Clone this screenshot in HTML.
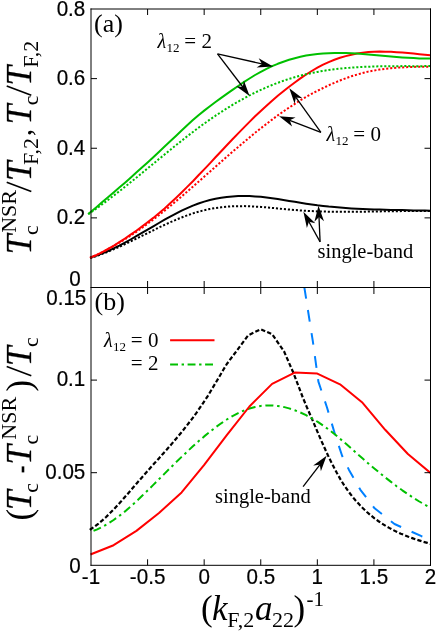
<!DOCTYPE html>
<html><head><meta charset="utf-8"><title>Figure</title>
<style>html,body{margin:0;padding:0;background:#fff;}body{width:436px;height:632px;position:relative;overflow:hidden;font-family:"Liberation Sans",sans-serif;}</style>
</head><body>
<svg width="436" height="632" viewBox="0 0 436 632" style="position:absolute;left:0;top:0;will-change:transform">
<rect width="436" height="632" fill="#fff"/>
<defs><clipPath id="ca"><rect x="87.0" y="9.0" width="343.5" height="278.5"/></clipPath><clipPath id="cb"><rect x="87.0" y="287.5" width="343.5" height="277.79999999999995"/></clipPath></defs>
<polyline clip-path="url(#ca)" points="90.2,258.1 91.0,257.8 96.7,256.0 102.3,253.9 108.0,251.7 113.6,249.3 119.3,246.8 125.0,244.2 130.6,241.4 136.3,238.7 141.9,235.9 147.6,233.1 153.3,230.3 158.9,227.5 164.6,224.8 170.2,222.3 175.9,219.8 181.6,217.5 187.2,215.4 192.9,213.4 198.5,211.7 204.2,210.2 209.9,209.0 215.5,208.0 221.2,207.3 226.8,206.7 232.5,206.3 238.2,206.2 243.8,206.1 249.5,206.3 255.1,206.6 260.8,206.9 266.5,207.4 272.1,207.9 277.8,208.5 283.4,209.0 289.1,209.5 294.8,210.0 300.4,210.5 306.1,210.8 311.7,211.1 317.4,211.4 323.1,211.5 328.7,211.7 334.4,211.8 340.0,211.8 345.7,211.8 351.4,211.8 357.0,211.8 362.7,211.7 368.3,211.6 374.0,211.5 379.7,211.4 385.3,211.3 391.0,211.2 396.6,211.2 402.3,211.1 408.0,211.0 413.6,211.0 419.3,211.0 424.9,211.0 430.5,211.1" fill="none" stroke="#000" stroke-width="2" stroke-linejoin="round" stroke-dasharray="2.1 1.9"/>
<polyline clip-path="url(#ca)" points="90.2,257.7 91.0,257.4 96.7,255.6 102.3,253.4 108.0,251.0 113.6,248.4 119.3,245.6 125.0,242.6 130.6,239.5 136.3,236.2 141.9,232.9 147.6,229.6 153.3,226.3 158.9,223.0 164.6,219.7 170.2,216.6 175.9,213.6 181.6,210.7 187.2,208.1 192.9,205.6 198.5,203.5 204.2,201.6 209.9,200.0 215.5,198.7 221.2,197.7 226.8,196.9 232.5,196.4 238.2,196.1 243.8,196.0 249.5,196.1 255.1,196.4 260.8,196.8 266.5,197.5 272.1,198.2 277.8,199.0 283.4,199.9 289.1,200.9 294.8,201.8 300.4,202.8 306.1,203.7 311.7,204.5 317.4,205.3 323.1,205.9 328.7,206.6 334.4,207.1 340.0,207.6 345.7,208.0 351.4,208.4 357.0,208.7 362.7,209.0 368.3,209.2 374.0,209.4 379.7,209.6 385.3,209.7 391.0,209.9 396.6,210.0 402.3,210.1 408.0,210.3 413.6,210.4 419.3,210.5 424.9,210.6 430.5,210.8" fill="none" stroke="#000" stroke-width="2" stroke-linejoin="round"/>
<polyline clip-path="url(#ca)" points="90.0,258.1 91.0,257.6 96.7,255.0 102.3,252.2 108.0,249.2 113.6,246.0 119.3,242.7 125.0,239.3 130.6,235.6 136.3,231.9 141.9,227.9 147.6,223.8 153.3,219.6 158.9,215.2 164.6,210.7 170.2,206.1 175.9,201.3 181.6,196.5 187.2,191.6 192.9,186.7 198.5,181.7 204.2,176.7 209.9,171.7 215.5,166.7 221.2,161.7 226.8,156.8 232.5,151.8 238.2,147.0 243.8,142.2 249.5,137.5 255.1,132.8 260.8,128.3 266.5,123.9 272.1,119.6 277.8,115.4 283.4,111.4 289.1,107.6 294.8,103.9 300.4,100.3 306.1,97.0 311.7,93.8 317.4,90.8 323.1,88.0 328.7,85.3 334.4,82.8 340.0,80.5 345.7,78.3 351.4,76.3 357.0,74.6 362.7,73.0 368.3,71.6 374.0,70.5 379.7,69.6 385.3,68.8 391.0,68.2 396.6,67.7 402.3,67.4 408.0,67.1 413.6,66.9 419.3,66.8 424.9,66.7 430.5,66.6" fill="none" stroke="#ff0000" stroke-width="2" stroke-linejoin="round" stroke-dasharray="2.1 1.9"/>
<polyline clip-path="url(#ca)" points="90.0,257.6 91.0,257.2 96.7,254.8 102.3,252.1 108.0,249.0 113.6,245.8 119.3,242.2 125.0,238.5 130.6,234.7 136.3,230.7 141.9,226.6 147.6,222.3 153.3,217.9 158.9,213.3 164.6,208.4 170.2,203.3 175.9,198.0 181.6,192.5 187.2,186.9 192.9,181.2 198.5,175.3 204.2,169.4 209.9,163.4 215.5,157.3 221.2,151.3 226.8,145.3 232.5,139.3 238.2,133.4 243.8,127.6 249.5,121.9 255.1,116.3 260.8,110.9 266.5,105.7 272.1,100.7 277.8,95.8 283.4,91.2 289.1,86.7 294.8,82.5 300.4,78.4 306.1,74.5 311.7,71.0 317.4,67.7 323.1,64.7 328.7,62.1 334.4,59.8 340.0,57.8 345.7,56.1 351.4,54.7 357.0,53.6 362.7,52.7 368.3,52.1 374.0,51.8 379.7,51.6 385.3,51.7 391.0,51.8 396.6,52.2 402.3,52.6 408.0,53.1 413.6,53.6 419.3,54.2 424.9,54.8 430.5,55.3" fill="none" stroke="#ff0000" stroke-width="2" stroke-linejoin="round"/>
<polyline clip-path="url(#ca)" points="88.2,214.3 91.0,212.3 96.7,208.4 102.3,204.3 108.0,200.0 113.6,195.7 119.3,191.3 125.0,186.8 130.6,182.3 136.3,177.7 141.9,173.1 147.6,168.4 153.3,163.8 158.9,159.1 164.6,154.5 170.2,149.9 175.9,145.3 181.6,140.8 187.2,136.3 192.9,132.0 198.5,127.7 204.2,123.6 209.9,119.6 215.5,115.7 221.2,112.0 226.8,108.4 232.5,104.9 238.2,101.6 243.8,98.5 249.5,95.4 255.1,92.6 260.8,89.9 266.5,87.4 272.1,85.0 277.8,82.8 283.4,80.8 289.1,78.9 294.8,77.2 300.4,75.6 306.1,74.3 311.7,73.0 317.4,71.9 323.1,70.9 328.7,70.0 334.4,69.3 340.0,68.6 345.7,68.1 351.4,67.6 357.0,67.2 362.7,66.9 368.3,66.7 374.0,66.5 379.7,66.3 385.3,66.3 391.0,66.2 396.6,66.2 402.3,66.1 408.0,66.1 413.6,66.2 419.3,66.2 424.9,66.1 430.5,66.1" fill="none" stroke="#00c000" stroke-width="2" stroke-linejoin="round" stroke-dasharray="2.1 1.9"/>
<polyline clip-path="url(#ca)" points="88.2,214.1 91.0,211.7 96.7,206.9 102.3,202.1 108.0,197.3 113.6,192.4 119.3,187.6 125.0,182.7 130.6,177.7 136.3,172.6 141.9,167.5 147.6,162.4 153.3,157.2 158.9,151.9 164.6,146.6 170.2,141.3 175.9,135.9 181.6,130.5 187.2,125.3 192.9,120.1 198.5,115.2 204.2,110.6 209.9,106.2 215.5,102.0 221.2,97.9 226.8,93.9 232.5,89.9 238.2,86.0 243.8,82.1 249.5,78.5 255.1,75.0 260.8,71.8 266.5,68.9 272.1,66.2 277.8,63.8 283.4,61.7 289.1,59.8 294.8,58.2 300.4,56.8 306.1,55.6 311.7,54.7 317.4,54.0 323.1,53.5 328.7,53.2 334.4,53.0 340.0,53.0 345.7,53.1 351.4,53.3 357.0,53.6 362.7,53.9 368.3,54.4 374.0,54.9 379.7,55.4 385.3,55.9 391.0,56.4 396.6,56.9 402.3,57.4 408.0,57.8 413.6,58.1 419.3,58.4 424.9,58.6 430.5,58.6" fill="none" stroke="#00c000" stroke-width="2" stroke-linejoin="round"/>
<polyline clip-path="url(#cb)" points="304.3,287.0 307.9,310.0 312.9,341.7 318.4,381.6 327.0,407.5 335.2,435.0 342.1,455.7 349.0,469.9 360.4,489.8 374.6,508.3 394.5,524.0 421.5,536.2 430.5,539.5" fill="none" stroke="#0080ff" stroke-width="2" stroke-linejoin="round" stroke-dasharray="11.8 11.5"/>
<polyline clip-path="url(#cb)" points="89.8,529.8 91.0,529.0 94.8,526.5 98.5,523.6 102.3,520.4 106.1,517.0 109.8,513.3 113.6,509.5 117.4,505.4 121.2,501.3 124.9,497.0 128.7,492.7 132.5,488.3 136.2,483.9 140.0,479.6 143.8,475.3 147.5,471.1 151.3,466.8 155.1,462.6 158.9,458.4 162.6,454.2 166.4,450.0 170.2,445.7 173.9,441.3 177.7,436.8 181.5,432.3 185.2,427.6 189.0,422.8 192.8,417.8 196.6,412.6 200.3,407.2 204.1,401.6 207.9,395.8 211.6,389.6 215.4,383.3 219.2,376.9 222.9,370.5 226.7,364.2 248.2,335.3 260.6,329.3 272.1,334.2 284.0,351.3 293.6,373.3 302.8,397.5 306.6,406.6 310.4,415.3 314.2,424.1 317.9,432.9 321.7,441.6 325.5,450.0 329.2,458.0 333.0,465.6 336.8,472.8 340.5,479.4 344.3,485.5 348.1,491.0 351.9,496.0 355.6,500.5 359.4,504.6 363.2,508.5 366.9,512.0 370.7,515.3 374.5,518.3 378.2,521.0 382.0,523.6 385.8,526.0 389.6,528.1 393.3,530.1 397.1,532.0 400.9,533.7 404.6,535.2 408.4,536.7 412.2,538.1 415.9,539.4 419.7,540.6 423.5,541.8 427.3,542.9 430.5,543.9" fill="none" stroke="#000" stroke-width="2.2" stroke-linejoin="round" stroke-dasharray="4.3 2.2"/>
<polyline clip-path="url(#cb)" points="90.5,531.9 91.0,531.7 96.7,529.6 102.3,527.0 108.0,523.7 113.6,520.0 119.3,515.9 125.0,511.4 130.6,506.5 136.3,501.4 141.9,496.0 147.6,490.5 153.3,484.9 158.9,479.3 164.6,473.6 170.2,468.0 175.9,462.4 181.6,456.9 187.2,451.6 192.9,446.3 198.5,441.3 204.2,436.4 209.9,431.8 215.5,427.4 221.2,423.3 226.8,419.5 232.5,416.1 238.2,413.1 243.8,410.6 249.5,408.5 255.1,407.0 260.8,405.9 266.5,405.4 272.1,405.5 277.8,406.0 283.4,406.9 289.1,408.4 294.8,410.3 300.4,412.5 306.1,415.2 311.7,418.3 317.4,421.7 323.1,425.5 328.7,429.6 334.4,434.0 340.0,438.7 345.7,443.6 351.4,448.6 357.0,453.6 362.7,458.5 368.3,463.4 374.0,468.2 379.7,472.9 385.3,477.5 391.0,481.9 396.6,486.2 402.3,490.3 408.0,494.2 413.6,498.0 419.3,501.5 424.9,504.7 430.5,507.7" fill="none" stroke="#00c000" stroke-width="2" stroke-linejoin="round" stroke-dasharray="8 3.75 2.5 3.75" stroke-dashoffset="14.8"/>
<polyline clip-path="url(#cb)" points="90.5,554.5 91.0,554.3 113.6,545.2 136.4,530.9 159.0,513.0 181.6,492.4 204.0,465.2 226.8,435.2 249.4,406.5 272.1,383.9 294.7,372.6 317.3,373.6 340.0,384.3 362.6,402.8 385.2,429.8 407.9,454.0 430.5,473.0" fill="none" stroke="#ff0000" stroke-width="2" stroke-linejoin="round"/>
<line x1="170.1" y1="340.3" x2="214.5" y2="340.3" stroke="#ff0000" stroke-width="2"/>
<line x1="170.1" y1="364.5" x2="213.1" y2="364.5" stroke="#00c000" stroke-width="2" stroke-dasharray="7.9 3.6 2.4 3.6"/>
<line x1="91.0" y1="8.5" x2="91.0" y2="565.8" stroke="#000" stroke-width="1"/>
<line x1="430.5" y1="8.5" x2="430.5" y2="565.8" stroke="#000" stroke-width="1"/>
<line x1="90.5" y1="9.0" x2="431.0" y2="9.0" stroke="#000" stroke-width="1"/>
<line x1="90.5" y1="287.5" x2="431.0" y2="287.5" stroke="#000" stroke-width="1"/>
<line x1="90.5" y1="565.3" x2="431.0" y2="565.3" stroke="#000" stroke-width="1"/>
<line x1="147.58" y1="9.0" x2="147.58" y2="15.0" stroke="#000" stroke-width="1"/>
<line x1="147.58" y1="281.0" x2="147.58" y2="294.0" stroke="#000" stroke-width="1"/>
<line x1="147.58" y1="559.3" x2="147.58" y2="565.3" stroke="#000" stroke-width="1"/>
<line x1="204.17" y1="9.0" x2="204.17" y2="15.0" stroke="#000" stroke-width="1"/>
<line x1="204.17" y1="281.0" x2="204.17" y2="294.0" stroke="#000" stroke-width="1"/>
<line x1="204.17" y1="559.3" x2="204.17" y2="565.3" stroke="#000" stroke-width="1"/>
<line x1="260.75" y1="9.0" x2="260.75" y2="15.0" stroke="#000" stroke-width="1"/>
<line x1="260.75" y1="281.0" x2="260.75" y2="294.0" stroke="#000" stroke-width="1"/>
<line x1="260.75" y1="559.3" x2="260.75" y2="565.3" stroke="#000" stroke-width="1"/>
<line x1="317.33" y1="9.0" x2="317.33" y2="15.0" stroke="#000" stroke-width="1"/>
<line x1="317.33" y1="281.0" x2="317.33" y2="294.0" stroke="#000" stroke-width="1"/>
<line x1="317.33" y1="559.3" x2="317.33" y2="565.3" stroke="#000" stroke-width="1"/>
<line x1="373.92" y1="9.0" x2="373.92" y2="15.0" stroke="#000" stroke-width="1"/>
<line x1="373.92" y1="281.0" x2="373.92" y2="294.0" stroke="#000" stroke-width="1"/>
<line x1="373.92" y1="559.3" x2="373.92" y2="565.3" stroke="#000" stroke-width="1"/>
<line x1="91.0" y1="78.62" x2="97.0" y2="78.62" stroke="#000" stroke-width="1"/>
<line x1="424.5" y1="78.62" x2="430.5" y2="78.62" stroke="#000" stroke-width="1"/>
<line x1="91.0" y1="148.25" x2="97.0" y2="148.25" stroke="#000" stroke-width="1"/>
<line x1="424.5" y1="148.25" x2="430.5" y2="148.25" stroke="#000" stroke-width="1"/>
<line x1="91.0" y1="217.88" x2="97.0" y2="217.88" stroke="#000" stroke-width="1"/>
<line x1="424.5" y1="217.88" x2="430.5" y2="217.88" stroke="#000" stroke-width="1"/>
<line x1="91.0" y1="380.10" x2="97.0" y2="380.10" stroke="#000" stroke-width="1"/>
<line x1="424.5" y1="380.10" x2="430.5" y2="380.10" stroke="#000" stroke-width="1"/>
<line x1="91.0" y1="472.70" x2="97.0" y2="472.70" stroke="#000" stroke-width="1"/>
<line x1="424.5" y1="472.70" x2="430.5" y2="472.70" stroke="#000" stroke-width="1"/>
<line x1="217.5" y1="53.8" x2="262.0" y2="63.9" stroke="#000" stroke-width="1.3"/><polygon points="273.1,66.4 256.6,67.6 262.0,63.9 258.7,58.2" fill="#000"/>
<line x1="217.5" y1="53.8" x2="242.8" y2="87.0" stroke="#000" stroke-width="1.3"/><polygon points="249.6,96.0 236.2,86.3 242.8,87.0 243.9,80.5" fill="#000"/>
<line x1="320.9" y1="132.3" x2="295.9" y2="97.4" stroke="#000" stroke-width="1.3"/><polygon points="289.3,88.2 302.4,98.2 295.9,97.4 294.6,103.8" fill="#000"/>
<line x1="320.9" y1="132.3" x2="289.7" y2="120.3" stroke="#000" stroke-width="1.3"/><polygon points="279.1,116.3 295.6,117.5 289.7,120.3 292.1,126.4" fill="#000"/>
<line x1="320.1" y1="241.9" x2="308.9" y2="221.7" stroke="#000" stroke-width="1.3"/><polygon points="303.4,211.8 315.3,223.3 308.9,221.7 306.9,227.9" fill="#000"/>
<line x1="320.1" y1="241.9" x2="319.0" y2="217.0" stroke="#000" stroke-width="1.3"/><polygon points="318.5,205.7 324.0,221.3 319.0,217.0 314.4,221.7" fill="#000"/>
<line x1="303.1" y1="486.6" x2="319.8" y2="464.8" stroke="#000" stroke-width="1.3"/><polygon points="326.6,455.8 320.9,471.3 319.8,464.8 313.2,465.4" fill="#000"/>
<text transform="translate(85.3,15.8) scale(1,1.05)" font-family="Liberation Sans, sans-serif" font-size="20.6" text-anchor="end" fill="#000" stroke="#000" stroke-width="0.2">0.8</text>
<text transform="translate(85.3,84.9) scale(1,1.05)" font-family="Liberation Sans, sans-serif" font-size="20.6" text-anchor="end" fill="#000" stroke="#000" stroke-width="0.2">0.6</text>
<text transform="translate(85.3,154.6) scale(1,1.05)" font-family="Liberation Sans, sans-serif" font-size="20.6" text-anchor="end" fill="#000" stroke="#000" stroke-width="0.2">0.4</text>
<text transform="translate(85.3,224.2) scale(1,1.05)" font-family="Liberation Sans, sans-serif" font-size="20.6" text-anchor="end" fill="#000" stroke="#000" stroke-width="0.2">0.2</text>
<text transform="translate(80.6,286.4) scale(1,1.05)" font-family="Liberation Sans, sans-serif" font-size="20.6" text-anchor="end" fill="#000" stroke="#000" stroke-width="0.2">0</text>
<text transform="translate(86.3,304.5) scale(1,1.05)" font-family="Liberation Sans, sans-serif" font-size="20.6" text-anchor="end" fill="#000" stroke="#000" stroke-width="0.2">0.15</text>
<text transform="translate(85.3,386.4) scale(1,1.05)" font-family="Liberation Sans, sans-serif" font-size="20.6" text-anchor="end" fill="#000" stroke="#000" stroke-width="0.2">0.1</text>
<text transform="translate(85.3,479.0) scale(1,1.05)" font-family="Liberation Sans, sans-serif" font-size="20.6" text-anchor="end" fill="#000" stroke="#000" stroke-width="0.2">0.05</text>
<text transform="translate(80.6,572.5) scale(1,1.05)" font-family="Liberation Sans, sans-serif" font-size="20.6" text-anchor="end" fill="#000" stroke="#000" stroke-width="0.2">0</text>
<text transform="translate(91.0,583.8) scale(1,1.05)" font-family="Liberation Sans, sans-serif" font-size="20.6" text-anchor="middle" fill="#000" stroke="#000" stroke-width="0.2">-1</text>
<text transform="translate(147.6,583.8) scale(1,1.05)" font-family="Liberation Sans, sans-serif" font-size="20.6" text-anchor="middle" fill="#000" stroke="#000" stroke-width="0.2">-0.5</text>
<text transform="translate(204.2,583.8) scale(1,1.05)" font-family="Liberation Sans, sans-serif" font-size="20.6" text-anchor="middle" fill="#000" stroke="#000" stroke-width="0.2">0</text>
<text transform="translate(260.8,583.8) scale(1,1.05)" font-family="Liberation Sans, sans-serif" font-size="20.6" text-anchor="middle" fill="#000" stroke="#000" stroke-width="0.2">0.5</text>
<text transform="translate(317.3,583.8) scale(1,1.05)" font-family="Liberation Sans, sans-serif" font-size="20.6" text-anchor="middle" fill="#000" stroke="#000" stroke-width="0.2">1</text>
<text transform="translate(373.9,583.8) scale(1,1.05)" font-family="Liberation Sans, sans-serif" font-size="20.6" text-anchor="middle" fill="#000" stroke="#000" stroke-width="0.2">1.5</text>
<text transform="translate(430.5,583.8) scale(1,1.05)" font-family="Liberation Sans, sans-serif" font-size="20.6" text-anchor="middle" fill="#000" stroke="#000" stroke-width="0.2">2</text>
<text x="94" y="31.8" font-family="Liberation Serif, serif" font-size="26">(a)</text>
<text x="94.5" y="310.1" font-family="Liberation Serif, serif" font-size="26">(b)</text>
<text x="157.4" y="47.9" font-family="Liberation Serif, serif" font-size="20" font-style="italic">λ</text><text x="166.6" y="51.9" font-family="Liberation Serif, serif" font-size="13">12</text><text x="184.3" y="47.9" font-family="Liberation Serif, serif" font-size="21">= 2</text>
<text x="326.4" y="141" font-family="Liberation Serif, serif" font-size="20" font-style="italic">λ</text><text x="335.59999999999997" y="145" font-family="Liberation Serif, serif" font-size="13">12</text><text x="353.29999999999995" y="141" font-family="Liberation Serif, serif" font-size="21">= 0</text>
<text x="103.9" y="346.8" font-family="Liberation Serif, serif" font-size="20" font-style="italic">λ</text><text x="113.10000000000001" y="350.8" font-family="Liberation Serif, serif" font-size="13">12</text><text x="130.8" y="346.8" font-family="Liberation Serif, serif" font-size="21">= 0</text>
<text x="130.8" y="370" font-family="Liberation Serif, serif" font-size="21">= 2</text>
<text x="317.5" y="258" font-family="Liberation Serif, serif" font-size="20.5">single-band</text>
<text x="215" y="502.6" font-family="Liberation Serif, serif" font-size="20.5">single-band</text>
<g transform="translate(31,252.3) rotate(-90)"><text x="-2" y="0" font-family="Liberation Serif, serif" font-size="35" font-style="italic" stroke="#000" stroke-width="0.3">T</text><text x="17.2" y="7" font-family="Liberation Serif, serif" font-size="22">c</text><text x="19.5" y="-15" font-family="Liberation Serif, serif" font-size="22">NSR</text><line x1="60.8" y1="0.3" x2="70.0" y2="-24.3" stroke="#000" stroke-width="1.6"/><text x="71.4" y="0" font-family="Liberation Serif, serif" font-size="35" font-style="italic" stroke="#000" stroke-width="0.3">T</text><text x="87.3" y="7" font-family="Liberation Serif, serif" font-size="22">F,2</text><text x="116" y="0" font-family="Liberation Serif, serif" font-size="30">,</text><text x="128.1" y="0" font-family="Liberation Serif, serif" font-size="35" font-style="italic" stroke="#000" stroke-width="0.3">T</text><text x="147" y="7" font-family="Liberation Serif, serif" font-size="22">c</text><line x1="157.0" y1="0.3" x2="166.2" y2="-24.3" stroke="#000" stroke-width="1.6"/><text x="166.8" y="0" font-family="Liberation Serif, serif" font-size="35" font-style="italic" stroke="#000" stroke-width="0.3">T</text><text x="184.5" y="7" font-family="Liberation Serif, serif" font-size="22">F,2</text></g>
<g transform="translate(31,524) rotate(-90)"><text x="3.4" y="0" font-family="Liberation Serif, serif" font-size="35">(</text><text x="14" y="0" font-family="Liberation Serif, serif" font-size="35" font-style="italic" stroke="#000" stroke-width="0.3">T</text><text x="31.2" y="7" font-family="Liberation Serif, serif" font-size="22">c</text><line x1="51.6" y1="-8" x2="57.6" y2="-8" stroke="#000" stroke-width="2.6"/><text x="59.6" y="0" font-family="Liberation Serif, serif" font-size="35" font-style="italic" stroke="#000" stroke-width="0.3">T</text><text x="79.5" y="7" font-family="Liberation Serif, serif" font-size="22">c</text><text x="84.3" y="-15" font-family="Liberation Serif, serif" font-size="22">NSR</text><text x="132.4" y="0" font-family="Liberation Serif, serif" font-size="35">)</text><line x1="148.3" y1="0.3" x2="157.5" y2="-24.3" stroke="#000" stroke-width="1.6"/><text x="158" y="0" font-family="Liberation Serif, serif" font-size="35" font-style="italic" stroke="#000" stroke-width="0.3">T</text><text x="177" y="7" font-family="Liberation Serif, serif" font-size="22">c</text></g>
<g transform="translate(0,619.8)"><text x="201" y="0" font-family="Liberation Serif, serif" font-size="35">(</text><text x="212" y="0" font-family="Liberation Serif, serif" font-size="35" font-style="italic">k</text><text x="227.3" y="7" font-family="Liberation Serif, serif" font-size="22">F,2</text><text x="255" y="0" font-family="Liberation Serif, serif" font-size="35" font-style="italic">a</text><text x="272" y="7" font-family="Liberation Serif, serif" font-size="22">22</text><text x="293.5" y="0" font-family="Liberation Serif, serif" font-size="35">)</text><text x="306.5" y="-13.8" font-family="Liberation Serif, serif" font-size="21">-1</text></g>
</svg>
</body></html>
